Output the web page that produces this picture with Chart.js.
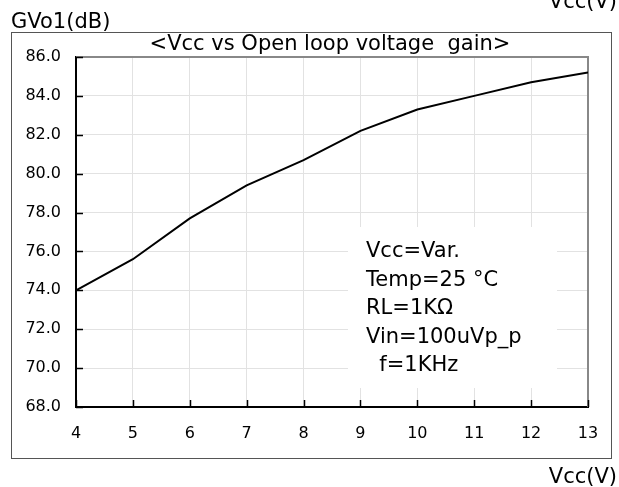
<!DOCTYPE html>
<html>
<head>
<meta charset="utf-8">
<script src="https://cdn.jsdelivr.net/npm/chart.js@4/dist/chart.umd.min.js"></script>
<style>
  html, body { margin: 0; padding: 0; background: #fff; }
  #wrap { width: 619px; height: 487px; }
</style>
</head>
<body>
<div id="wrap"><canvas id="gainChart" width="619" height="487"></canvas></div>
<script>
// Vcc vs open loop voltage gain
const vcc = [4, 5, 6, 7, 8, 9, 10, 11, 12, 13];
const gain = [74.0, 75.6, 77.7, 79.4, 80.7, 82.2, 83.3, 84.0, 84.7, 85.2];
const yRange = [68, 86];
const xRange = [4, 13];
const chartTitle = '<Vcc vs Open loop voltage  gain>';
const yAxisLabel = 'GVo1(dB)';
const xAxisLabel = 'Vcc(V)';
const conditions = ['Vcc=Var.', 'Temp=25 \u00B0C', 'RL=1K\u03A9', 'Vin=100uVp_p', '  f=1KHz'];

const FONT = '"DejaVu Sans", "Liberation Sans", Arial, sans-serif';

const decorations = {
  id: 'decorations',
  beforeDraw(chart) {
    const ctx = chart.ctx;
    ctx.save();
    ctx.fillStyle = '#fff';
    ctx.fillRect(0, 0, chart.width, chart.height);
    // outer frame
    ctx.strokeStyle = '#555';
    ctx.lineWidth = 1;
    ctx.strokeRect(11.5, 32.5, 600, 426);
    ctx.fillStyle = '#000';
    ctx.font = '21px ' + FONT;
    ctx.textBaseline = 'alphabetic';
    ctx.textAlign = 'left';
    ctx.fillText(yAxisLabel, 11, 28);
    ctx.textAlign = 'right';
    ctx.fillText(xAxisLabel, 617, 483);
    ctx.fillText(xAxisLabel, 617, 8);
    ctx.textAlign = 'center';
    ctx.fillText(chartTitle, 330, 50);
    ctx.restore();
  },
  beforeDatasetsDraw(chart) {
    const ctx = chart.ctx;
    const a = chart.chartArea;
    ctx.save();
    // conditions box covers the grid
    ctx.fillStyle = '#fff';
    ctx.fillRect(348, 227, 209, 161);
    ctx.fillStyle = '#000';
    ctx.font = '21px ' + FONT;
    ctx.textAlign = 'left';
    ctx.textBaseline = 'alphabetic';
    conditions.forEach((t, i) => ctx.fillText(t, 366, 257 + i * 28.5));
    // top & right plot border
    ctx.strokeStyle = '#888';
    ctx.lineWidth = 2;
    ctx.beginPath();
    ctx.moveTo(a.left, a.top);
    ctx.lineTo(a.right, a.top);
    ctx.lineTo(a.right, a.bottom);
    ctx.stroke();
    // inner tick marks
    ctx.strokeStyle = '#000';
    ctx.lineWidth = 1.5;
    const xs = chart.scales.x, ys = chart.scales.y;
    xs.ticks.forEach(tk => {
      const px = Math.round(xs.getPixelForValue(tk.value)) + 0.5;
      ctx.beginPath();
      ctx.moveTo(px, a.bottom);
      ctx.lineTo(px, a.bottom - 7);
      ctx.stroke();
    });
    ys.ticks.forEach(tk => {
      const py = Math.round(ys.getPixelForValue(tk.value)) + 0.5;
      ctx.beginPath();
      ctx.moveTo(a.left, py);
      ctx.lineTo(a.left + 7, py);
      ctx.stroke();
    });
    ctx.restore();
  }
};

new Chart(document.getElementById('gainChart'), {
  type: 'line',
  data: {
    datasets: [{
      data: vcc.map((v, i) => ({ x: v, y: gain[i] })),
      borderColor: '#000',
      borderWidth: 2,
      pointRadius: 0,
      tension: 0,
      fill: false
    }]
  },
  options: {
    responsive: false,
    animation: false,
    devicePixelRatio: 1,
    layout: { padding: { left: 0, top: 57, right: 31, bottom: 0 } },
    plugins: {
      legend: { display: false },
      tooltip: { enabled: false }
    },
    scales: {
      x: {
        type: 'linear',
        min: xRange[0],
        max: xRange[1],
        afterFit(s) { s.height = 80; },
        ticks: {
          stepSize: 1,
          color: '#000',
          padding: 17,
          font: { family: FONT, size: 16 }
        },
        grid: { color: '#e2e2e2', lineWidth: 1, drawTicks: false },
        border: { color: '#000', width: 2 }
      },
      y: {
        min: yRange[0],
        max: yRange[1],
        afterFit(s) { s.width = 76; },
        ticks: {
          stepSize: 2,
          color: '#000',
          padding: 15,
          font: { family: FONT, size: 16 },
          callback: v => v.toFixed(1)
        },
        grid: { color: '#e2e2e2', lineWidth: 1, drawTicks: false },
        border: { color: '#000', width: 2 }
      }
    }
  },
  plugins: [decorations]
});
</script>
</body>
</html>
